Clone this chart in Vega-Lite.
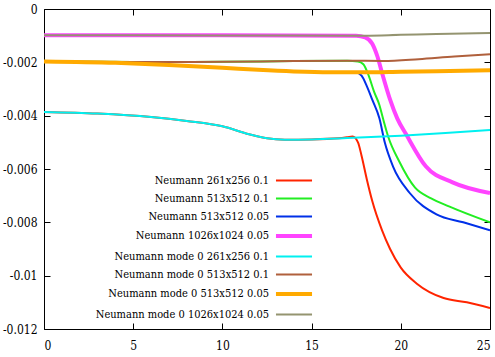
{
  "$schema": "https://vega.github.io/schema/vega-lite/v6.json",
  "width": 446,
  "height": 320,
  "autosize": {"type": "none"},
  "padding": {"left": 44, "top": 9, "right": 5, "bottom": 28},
  "background": "white",
  "config": {
    "font": "DejaVu Serif Condensed",
    "style": {"guide-label": {"font": "DejaVu Serif Condensed", "fontSize": 12, "fill": "black"}},
    "view": {"stroke": "black", "strokeWidth": 1},
    "axis": {"grid": false, "domain": false, "tickColor": "black", "tickSize": -6, "labelFont": "DejaVu Serif Condensed", "labelFontSize": 12, "labelColor": "black", "title": null},
    "legend": {"labelFont": "DejaVu Serif Condensed", "labelFontSize": 11, "labelColor": "black"}
  },
  "datasets": {
    "curves": [
      {"s": "Neumann 261x256 0.1", "x": 0, "y": -0.00386},
      {"s": "Neumann 261x256 0.1", "x": 3, "y": -0.00392},
      {"s": "Neumann 261x256 0.1", "x": 6, "y": -0.00405},
      {"s": "Neumann 261x256 0.1", "x": 8, "y": -0.0042},
      {"s": "Neumann 261x256 0.1", "x": 10, "y": -0.0044},
      {"s": "Neumann 261x256 0.1", "x": 11.5, "y": -0.0047},
      {"s": "Neumann 261x256 0.1", "x": 12.5, "y": -0.00485},
      {"s": "Neumann 261x256 0.1", "x": 13.5, "y": -0.0049},
      {"s": "Neumann 261x256 0.1", "x": 15, "y": -0.00489},
      {"s": "Neumann 261x256 0.1", "x": 16.5, "y": -0.00485},
      {"s": "Neumann 261x256 0.1", "x": 17, "y": -0.00481},
      {"s": "Neumann 261x256 0.1", "x": 17.3, "y": -0.00478},
      {"s": "Neumann 261x256 0.1", "x": 17.6, "y": -0.005},
      {"s": "Neumann 261x256 0.1", "x": 17.8, "y": -0.0055},
      {"s": "Neumann 261x256 0.1", "x": 18.1, "y": -0.0064},
      {"s": "Neumann 261x256 0.1", "x": 18.4, "y": -0.0072},
      {"s": "Neumann 261x256 0.1", "x": 18.95, "y": -0.0083},
      {"s": "Neumann 261x256 0.1", "x": 19.4, "y": -0.009},
      {"s": "Neumann 261x256 0.1", "x": 20, "y": -0.0097},
      {"s": "Neumann 261x256 0.1", "x": 20.9, "y": -0.0103},
      {"s": "Neumann 261x256 0.1", "x": 22.4, "y": -0.01084},
      {"s": "Neumann 261x256 0.1", "x": 23.7, "y": -0.011},
      {"s": "Neumann 261x256 0.1", "x": 25, "y": -0.01121},

      {"s": "Neumann 513x512 0.1", "x": 0, "y": -0.00196},
      {"s": "Neumann 513x512 0.1", "x": 5, "y": -0.00199},
      {"s": "Neumann 513x512 0.1", "x": 10, "y": -0.00198},
      {"s": "Neumann 513x512 0.1", "x": 14, "y": -0.00195},
      {"s": "Neumann 513x512 0.1", "x": 17, "y": -0.00194},
      {"s": "Neumann 513x512 0.1", "x": 17.6, "y": -0.00197},
      {"s": "Neumann 513x512 0.1", "x": 17.9, "y": -0.00207},
      {"s": "Neumann 513x512 0.1", "x": 18.2, "y": -0.0025},
      {"s": "Neumann 513x512 0.1", "x": 18.5, "y": -0.0031},
      {"s": "Neumann 513x512 0.1", "x": 18.8, "y": -0.0036},
      {"s": "Neumann 513x512 0.1", "x": 19.0, "y": -0.0041},
      {"s": "Neumann 513x512 0.1", "x": 19.3, "y": -0.0048},
      {"s": "Neumann 513x512 0.1", "x": 19.9, "y": -0.0057},
      {"s": "Neumann 513x512 0.1", "x": 20.8, "y": -0.0067},
      {"s": "Neumann 513x512 0.1", "x": 21.7, "y": -0.0071},
      {"s": "Neumann 513x512 0.1", "x": 22.7, "y": -0.0074},
      {"s": "Neumann 513x512 0.1", "x": 25, "y": -0.008},

      {"s": "Neumann 513x512 0.05", "x": 0, "y": -0.00197},
      {"s": "Neumann 513x512 0.05", "x": 4, "y": -0.00202},
      {"s": "Neumann 513x512 0.05", "x": 7, "y": -0.0021},
      {"s": "Neumann 513x512 0.05", "x": 10, "y": -0.0022},
      {"s": "Neumann 513x512 0.05", "x": 12, "y": -0.00228},
      {"s": "Neumann 513x512 0.05", "x": 14, "y": -0.00234},
      {"s": "Neumann 513x512 0.05", "x": 16, "y": -0.00237},
      {"s": "Neumann 513x512 0.05", "x": 17.5, "y": -0.00238},
      {"s": "Neumann 513x512 0.05", "x": 17.8, "y": -0.0025},
      {"s": "Neumann 513x512 0.05", "x": 18.1, "y": -0.0029},
      {"s": "Neumann 513x512 0.05", "x": 18.4, "y": -0.0034},
      {"s": "Neumann 513x512 0.05", "x": 18.8, "y": -0.0041},
      {"s": "Neumann 513x512 0.05", "x": 19.1, "y": -0.005},
      {"s": "Neumann 513x512 0.05", "x": 19.56, "y": -0.0059},
      {"s": "Neumann 513x512 0.05", "x": 20.5, "y": -0.0069},
      {"s": "Neumann 513x512 0.05", "x": 22, "y": -0.0077},
      {"s": "Neumann 513x512 0.05", "x": 23.5, "y": -0.008},
      {"s": "Neumann 513x512 0.05", "x": 25, "y": -0.0083},

      {"s": "Neumann 1026x1024 0.05", "x": 0, "y": -0.00098},
      {"s": "Neumann 1026x1024 0.05", "x": 10, "y": -0.00098},
      {"s": "Neumann 1026x1024 0.05", "x": 17.5, "y": -0.001},
      {"s": "Neumann 1026x1024 0.05", "x": 18.0, "y": -0.00106},
      {"s": "Neumann 1026x1024 0.05", "x": 18.4, "y": -0.0013},
      {"s": "Neumann 1026x1024 0.05", "x": 18.7, "y": -0.0018},
      {"s": "Neumann 1026x1024 0.05", "x": 18.95, "y": -0.0024},
      {"s": "Neumann 1026x1024 0.05", "x": 19.4, "y": -0.0034},
      {"s": "Neumann 1026x1024 0.05", "x": 19.8, "y": -0.0041},
      {"s": "Neumann 1026x1024 0.05", "x": 20.3, "y": -0.0047},
      {"s": "Neumann 1026x1024 0.05", "x": 21.4, "y": -0.0059},
      {"s": "Neumann 1026x1024 0.05", "x": 22.9, "y": -0.0065},
      {"s": "Neumann 1026x1024 0.05", "x": 25, "y": -0.0069},

      {"s": "Neumann mode 0 261x256 0.1", "x": 0, "y": -0.00386},
      {"s": "Neumann mode 0 261x256 0.1", "x": 3, "y": -0.00392},
      {"s": "Neumann mode 0 261x256 0.1", "x": 6, "y": -0.00405},
      {"s": "Neumann mode 0 261x256 0.1", "x": 8, "y": -0.0042},
      {"s": "Neumann mode 0 261x256 0.1", "x": 10, "y": -0.0044},
      {"s": "Neumann mode 0 261x256 0.1", "x": 11.5, "y": -0.0047},
      {"s": "Neumann mode 0 261x256 0.1", "x": 12.5, "y": -0.00485},
      {"s": "Neumann mode 0 261x256 0.1", "x": 13.5, "y": -0.0049},
      {"s": "Neumann mode 0 261x256 0.1", "x": 15, "y": -0.00489},
      {"s": "Neumann mode 0 261x256 0.1", "x": 17, "y": -0.00484},
      {"s": "Neumann mode 0 261x256 0.1", "x": 20, "y": -0.00475},
      {"s": "Neumann mode 0 261x256 0.1", "x": 22.5, "y": -0.00465},
      {"s": "Neumann mode 0 261x256 0.1", "x": 25, "y": -0.00454},

      {"s": "Neumann mode 0 513x512 0.1", "x": 0, "y": -0.00196},
      {"s": "Neumann mode 0 513x512 0.1", "x": 5, "y": -0.00199},
      {"s": "Neumann mode 0 513x512 0.1", "x": 10, "y": -0.00198},
      {"s": "Neumann mode 0 513x512 0.1", "x": 14, "y": -0.00195},
      {"s": "Neumann mode 0 513x512 0.1", "x": 17, "y": -0.00194},
      {"s": "Neumann mode 0 513x512 0.1", "x": 19, "y": -0.00195},
      {"s": "Neumann mode 0 513x512 0.1", "x": 21, "y": -0.00188},
      {"s": "Neumann mode 0 513x512 0.1", "x": 23, "y": -0.00178},
      {"s": "Neumann mode 0 513x512 0.1", "x": 25, "y": -0.0017},

      {"s": "Neumann mode 0 513x512 0.05", "x": 0, "y": -0.00197},
      {"s": "Neumann mode 0 513x512 0.05", "x": 4, "y": -0.00202},
      {"s": "Neumann mode 0 513x512 0.05", "x": 7, "y": -0.0021},
      {"s": "Neumann mode 0 513x512 0.05", "x": 10, "y": -0.0022},
      {"s": "Neumann mode 0 513x512 0.05", "x": 12, "y": -0.00228},
      {"s": "Neumann mode 0 513x512 0.05", "x": 14, "y": -0.00234},
      {"s": "Neumann mode 0 513x512 0.05", "x": 16, "y": -0.00237},
      {"s": "Neumann mode 0 513x512 0.05", "x": 18, "y": -0.00237},
      {"s": "Neumann mode 0 513x512 0.05", "x": 20, "y": -0.00235},
      {"s": "Neumann mode 0 513x512 0.05", "x": 22, "y": -0.00233},
      {"s": "Neumann mode 0 513x512 0.05", "x": 25, "y": -0.0023},

      {"s": "Neumann mode 0 1026x1024 0.05", "x": 0, "y": -0.00098},
      {"s": "Neumann mode 0 1026x1024 0.05", "x": 10, "y": -0.00099},
      {"s": "Neumann mode 0 1026x1024 0.05", "x": 18, "y": -0.001},
      {"s": "Neumann mode 0 1026x1024 0.05", "x": 20, "y": -0.00097},
      {"s": "Neumann mode 0 1026x1024 0.05", "x": 22, "y": -0.00094},
      {"s": "Neumann mode 0 1026x1024 0.05", "x": 25, "y": -0.0009}
    ]
  },
  "data": {"name": "curves"},
  "layer": [
    {
      "mark": {"type": "line", "interpolate": "monotone", "clip": true},
      "encoding": {
        "x": {"field": "x", "type": "quantitative", "scale": {"domain": [0, 25], "nice": false, "zero": false},
              "axis": {"orient": "bottom", "values": [0, 5, 10, 15, 20, 25], "labelPadding": 17, "labelFont": "DejaVu Serif Condensed", "labelFontSize": 12}},
        "y": {"field": "y", "type": "quantitative", "scale": {"domain": [-0.012, 0], "nice": false, "zero": false},
              "axis": {"orient": "left", "values": [0, -0.002, -0.004, -0.006, -0.008, -0.01, -0.012], "labelPadding": 13, "format": "~g", "labelExpr": "replace(datum.label, '\u2212', '-')", "labelFont": "DejaVu Serif Condensed", "labelFontSize": 12}},
        "color": {"field": "s", "type": "nominal",
          "scale": {"domain": ["Neumann 261x256 0.1", "Neumann 513x512 0.1", "Neumann 513x512 0.05", "Neumann 1026x1024 0.05", "Neumann mode 0 261x256 0.1", "Neumann mode 0 513x512 0.1", "Neumann mode 0 513x512 0.05", "Neumann mode 0 1026x1024 0.05"],
                    "range": ["#ff2400", "#22ee22", "#0030e8", "#ff44ff", "#00f0f0", "#b0603c", "#ffaa00", "#949470"]},
          "legend": {"orient": "none", "legendX": 244, "legendY": 166, "title": null, "symbolType": "M-5,0H5", "symbolSize": 52, "labelAlign": "right", "labelOffset": -31, "rowPadding": 6, "padding": 0, "labelLimit": 0, "symbolOpacity": 1, "labelFont": "DejaVu Serif Condensed", "labelFontSize": 11}},
        "strokeWidth": {"field": "s", "type": "nominal",
          "scale": {"type": "ordinal", "domain": ["Neumann 261x256 0.1", "Neumann 513x512 0.1", "Neumann 513x512 0.05", "Neumann 1026x1024 0.05", "Neumann mode 0 261x256 0.1", "Neumann mode 0 513x512 0.1", "Neumann mode 0 513x512 0.05", "Neumann mode 0 1026x1024 0.05"],
                    "range": [2, 2, 2, 4, 2, 2, 4, 2]},
          "legend": {"orient": "none", "legendX": 244, "legendY": 166, "title": null, "symbolType": "M-5,0H5", "symbolSize": 52, "labelAlign": "right", "labelOffset": -31, "rowPadding": 6, "padding": 0, "labelLimit": 0, "labelFont": "DejaVu Serif Condensed", "labelFontSize": 11}}
      }
    },
    {
      "mark": {"type": "point", "opacity": 0},
      "encoding": {
        "x": {"field": "x", "type": "quantitative", "axis": {"orient": "top", "values": [0, 5, 10, 15, 20, 25], "labels": false}},
        "y": {"field": "y", "type": "quantitative", "axis": {"orient": "right", "values": [0, -0.002, -0.004, -0.006, -0.008, -0.01, -0.012], "labels": false}}
      }
    }
  ],
  "resolve": {"axis": {"x": "independent", "y": "independent"}}
}
